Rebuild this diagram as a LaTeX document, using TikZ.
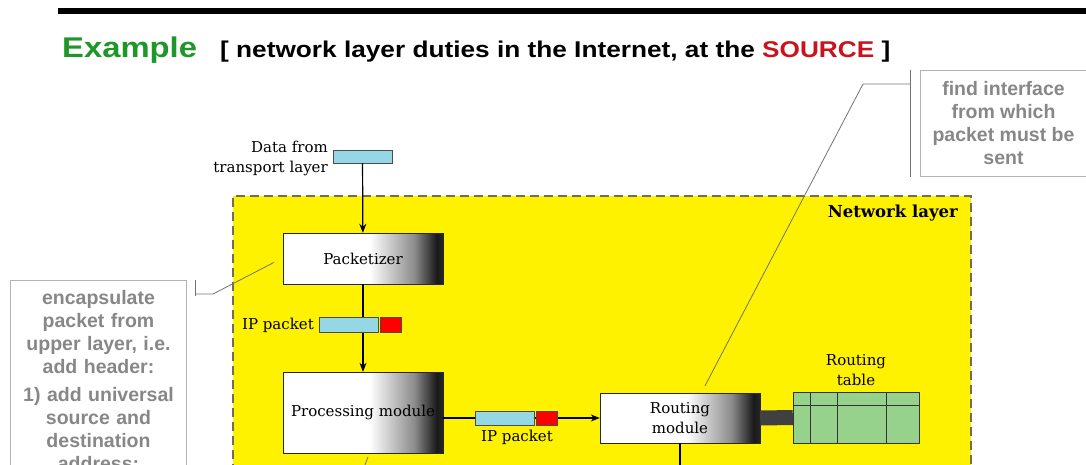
\documentclass[tikz,border=0pt]{standalone}
\usepackage{fontspec}
\setmainfont{DejaVu Serif}
\newfontfamily\calloutfont{Liberation Sans}
\newfontfamily\titlefont[FakeStretch=1.15]{Liberation Sans}
\usetikzlibrary{arrows.meta}
\definecolor{exgreen}{RGB}{30,150,40}
\definecolor{srcred}{RGB}{200,20,30}
\definecolor{pktblue}{RGB}{150,215,230}
\definecolor{tabgreen}{RGB}{150,210,140}
\definecolor{dashgray}{RGB}{110,110,90}
\pgfdeclarehorizontalshading{modfade}{100bp}{color(0bp)=(white); color(52bp)=(white); color(66bp)=(black!45); color(73bp)=(black!90); color(75bp)=(black!85); color(100bp)=(black!85)}
\newcommand{\lblfont}{\fontsize{15}{20}\selectfont}
\begin{document}
\begin{tikzpicture}[x=1pt,y=-1pt,>={Stealth[length=9pt,width=7pt]},
  module/.style={draw=black!85, shading=modfade, minimum width=160pt, font=\lblfont, align=center, inner sep=2pt},
  pktbody/.style={draw=black!70, fill=pktblue, minimum width=59pt, minimum height=14pt, inner sep=0pt},
  pkthead/.style={draw=black!70, fill=red, minimum width=21pt, minimum height=14pt, inner sep=0pt},
  callout/.style={draw=black!30, line width=1pt, text=black!47, font=\calloutfont\bfseries\fontsize{19.5}{23}\selectfont, align=center},
  leader/.style={draw=black!55, line width=0.8pt},
  flow/.style={line width=1.2pt}]
\useasboundingbox (0,0) rectangle (1086,465);
\clip (0,0) rectangle (1086,465);

% heading
\fill (58,8) rectangle (1086,14);
\node[anchor=base west, inner sep=0pt, text=exgreen, font=\titlefont\bfseries\fontsize{28.5}{29}\selectfont] (ttl) at (62,58) {Example};
\node[anchor=base west, inner sep=0pt, font=\titlefont\bfseries\fontsize{22.8}{23}\selectfont] (sub) at (220,58) {[ network layer duties in the Internet, at the \textcolor{srcred}{SOURCE} ]};

% network layer
\node[draw=dashgray, fill=yellow, line width=1.5pt, dash pattern=on 9pt off 5pt, minimum width=738pt, minimum height=300pt, anchor=north west, inner sep=0pt] (net) at (232,195) {};
\node[anchor=base east, inner sep=0pt, font=\bfseries\fontsize{16.5}{18}\selectfont] (netlbl) at (958,218) {Network layer};

\node[pktbody, minimum height=13pt] (data) at (362.5,156.5) {};
\node[anchor=east, align=right, inner sep=0pt, font=\lblfont] (datalbl) at (328,158) {Data from\\transport layer};

\node[module, minimum height=51pt] (pkt) at (363,258.5) {Packetizer};
\node[module, minimum height=81pt] (proc) at (363,412.5) {Processing module};
\node[module, minimum height=50pt] (route) at (680,418) {Routing\\module};
\node[draw=black!80, fill=tabgreen, minimum width=126pt, minimum height=51pt, inner sep=0pt] (rtab) at (856,417.5) {};
\node[align=center, font=\lblfont] (rtablbl) at (856,370) {Routing\\table};
\draw[black!80] ([yshift=-13pt]rtab.north west) -- ([yshift=-13pt]rtab.north east);
\foreach \dx in {17,44,93}
  \draw[black!80] ([xshift=\dx pt]rtab.north west) -- ([xshift=\dx pt]rtab.south west);

\draw[flow,->] (data) -- (pkt);
\draw[flow,->] (pkt) -- (proc);
\draw[flow,->] (proc.east |- route) -- (route);
\draw[line width=15pt, black!75] (route.east) -- (rtab.west);
\coordinate (rout) at (679,470);
\draw[flow] (route.south) -- (route.south |- rout);

\node[pktbody, minimum height=15pt] (ip1) at (348.5,324.5) {};
\node[pkthead, minimum height=15pt] (ip1h) at (390.5,324.5) {};
\node[anchor=east, inner sep=0pt, font=\lblfont] (ip1lbl) at (314,325) {IP packet};
\node[pktbody] (ip2) at (504.5,418) {};
\node[pkthead] (ip2h) at (546.5,418) {};
\node[inner sep=0pt, font=\lblfont] (ip2lbl) at (517,437) {IP packet};

% callouts
\node[callout, anchor=north west, minimum width=166pt, minimum height=106pt] (cr) at (920,70) {find interface\\from which\\packet must be\\sent};
\node[callout, anchor=north, text width=160pt, inner xsep=8pt, inner ysep=10pt] (cl) at (98.5,280) {encapsulate\\packet from\\upper layer, i.e.\\add header:\\[5pt]1) add universal\\source and\\destination\\address;};

\coordinate (crk) at (863,84);
\draw[leader] ([xshift=-10pt]cr.north west) -- ([xshift=-10pt]cr.south west);
\draw[leader] ([xshift=-10pt,yshift=-14pt]cr.north west) -- (crk) -- ([xshift=25pt,yshift=7pt]route.north);
\coordinate (clk) at (213,294);
\draw[leader] ([xshift=8pt]cl.north east) -- ([xshift=8pt,yshift=-16pt]cl.north east);
\draw[leader] ([xshift=8pt]cl.north east |- clk) -- (clk) -- ([xshift=-9pt,yshift=-4pt]pkt.west);
\coordinate (pl1) at (368,457);
\coordinate (pl2) at (363,470);
\draw[leader] (pl1) -- (pl2);
\end{tikzpicture}
\end{document}
